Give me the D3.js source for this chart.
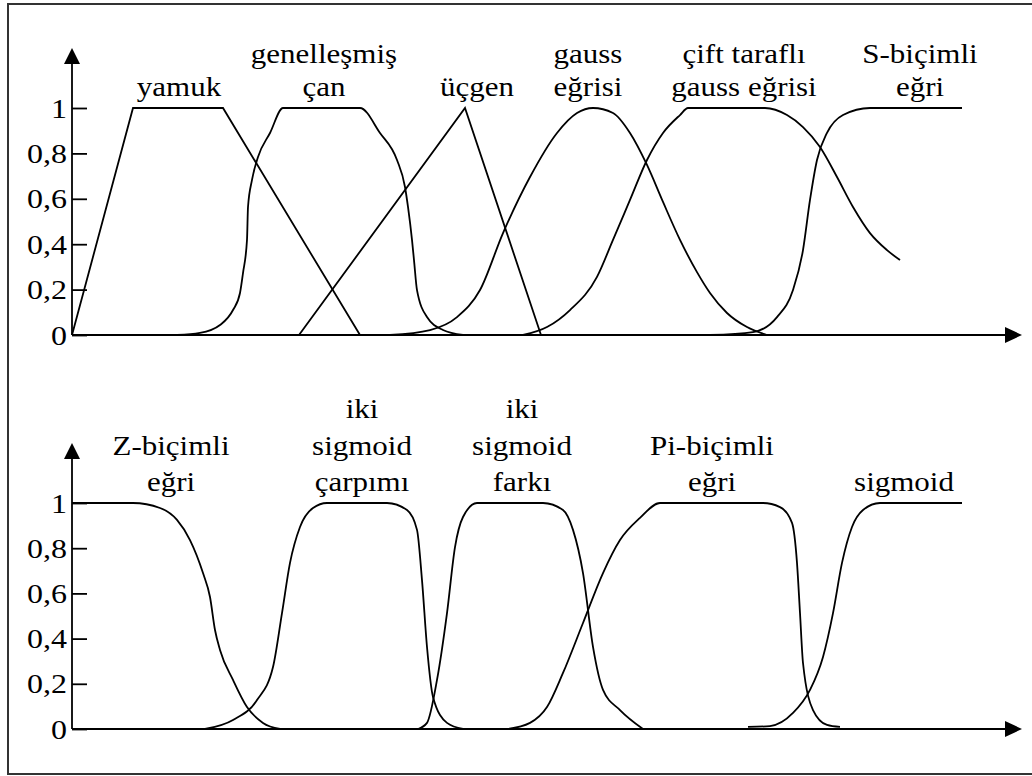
<!DOCTYPE html>
<html lang="tr">
  <head>
    <meta charset="UTF-8" />
    <title>Üyelik fonksiyonları</title>
    <script src="https://d3js.org/d3.v7.min.js"></script>
    <style>
      body {
        margin: 0;
        background: #fff;
        font-family: "Liberation Serif", "Times New Roman", serif;
      }
      svg {
        display: block;
      }
    </style>
  </head>
  <body>
    <svg id="chart" width="1032" height="776"></svg>

    <script>
      // values: [x, membership]
      // x is in drawing units along the horizontal axis (0..950)
      const yamuk = [[0, 0], [61, 1], [151, 1], [288, 0]];
      const genellesmisCan = [
        [105, 0], [128, 0.009], [148, 0.044], [161, 0.11], [168, 0.185],
        [171, 0.273], [175, 0.419], [176, 0.564], [180, 0.683], [186, 0.784],
        [198, 0.89], [211, 1], [288, 1], [308, 0.89], [325, 0.771],
        [333, 0.652], [336, 0.564], [340, 0.419], [342, 0.33], [345, 0.198],
        [355, 0.079], [371, 0.022], [391, 0]
      ];
      const ucgen = [[227, 0], [393, 1], [469, 0]];
      const gaussEgrisi = [
        [318, 0], [358, 0.022], [385, 0.079], [408, 0.198], [431, 0.449],
        [458, 0.696], [485, 0.89], [505, 0.978], [521, 1], [541, 0.978],
        [558, 0.89], [575, 0.749], [591, 0.586], [608, 0.419], [625, 0.277],
        [638, 0.185], [655, 0.097], [675, 0.035], [695, 0]
      ];
      const ciftGauss = [
        [451, 0], [475, 0.035], [498, 0.11], [525, 0.256], [541, 0.419],
        [558, 0.595], [575, 0.771], [591, 0.89], [608, 0.969], [616, 1],
        [693, 1], [715, 0.969], [731, 0.916], [748, 0.828], [765, 0.696],
        [781, 0.564], [798, 0.449], [815, 0.374], [828, 0.33]
      ];
      const sBicimli = [
        [638, 0], [681, 0.013], [705, 0.079], [721, 0.198], [731, 0.374],
        [738, 0.595], [745, 0.771], [755, 0.89], [771, 0.969], [798, 1],
        [890, 1]
      ];

      const zBicimli = [
        [0, 1], [61, 1], [88, 0.978], [105, 0.925], [118, 0.836],
        [131, 0.69], [138, 0.584], [143, 0.438], [148, 0.35], [161, 0.217],
        [175, 0.097], [191, 0.027], [208, 0]
      ];
      const sigmoidCarpimi = [
        [133, 0], [161, 0.04], [185, 0.128], [201, 0.274], [210, 0.513],
        [218, 0.735], [228, 0.894], [241, 0.978], [255, 1], [315, 1],
        [335, 0.969], [345, 0.881], [350, 0.659], [355, 0.363], [361, 0.142],
        [375, 0.027], [391, 0]
      ];
      const sigmoidFarki = [
        [346, 0], [355, 0.027], [365, 0.217], [375, 0.513], [383, 0.805],
        [391, 0.938], [405, 1], [471, 1], [491, 0.969], [501, 0.881],
        [511, 0.69], [521, 0.363], [531, 0.173], [548, 0.084], [571, 0]
      ];
      const piBicimli = [
        [435, 0], [458, 0.027], [475, 0.097], [491, 0.248], [511, 0.469],
        [531, 0.69], [548, 0.836], [568, 0.934], [588, 1], [691, 1],
        [708, 0.982], [720, 0.912], [725, 0.735], [728, 0.513], [731, 0.292],
        [741, 0.084], [755, 0.018], [768, 0.009]
      ];
      const sigmoid = [
        [676, 0.009], [698, 0.013], [721, 0.071], [738, 0.173], [751, 0.319],
        [761, 0.513], [770, 0.735], [780, 0.894], [791, 0.969], [808, 1],
        [890, 1]
      ];

      // curve names (lines of text) and the x where each name is centred
      const topNames = [
        ["yamuk"], ["genelleşmiş", "çan"], ["üçgen"], ["gauss", "eğrisi"],
        ["çift taraflı", "gauss eğrisi"], ["S-biçimli", "eğri"]
      ];
      const topNameX = [107, 252, 405, 516, 672, 848];
      const bottomNames = [
        ["Z-biçimli", "eğri"], ["iki", "sigmoid", "çarpımı"],
        ["iki", "sigmoid", "farkı"], ["Pi-biçimli", "eğri"], ["sigmoid"]
      ];
      const bottomNameX = [99, 290, 450, 640, 832];

      const tickValues = [0, 0.2, 0.4, 0.6, 0.8, 1];

      // the source lettering is a little flattened
      const squash = 0.88;

      const svg = d3.select("#chart");

      // frame round the whole figure
      svg
        .append("rect")
        .attr("x", 8)
        .attr("y", 4)
        .attr("width", 1040)
        .attr("height", 770)
        .attr("fill", "none")
        .attr("stroke", "#333")
        .attr("stroke-width", 2);

      const x = d3.scaleLinear().domain([0, 950]).range([72, 1022]);

      const panels = [
        {
          y: d3.scaleLinear().domain([0, 1]).range([335, 108]),
          linear: [yamuk, ucgen],
          smooth: [genellesmisCan, gaussEgrisi, ciftGauss, sBicimli],
          names: topNames,
          nameX: topNameX,
          lineHeight: 33,
        },
        {
          y: d3.scaleLinear().domain([0, 1]).range([729, 503]),
          linear: [],
          smooth: [zBicimli, sigmoidCarpimi, sigmoidFarki, piBicimli, sigmoid],
          names: bottomNames,
          nameX: bottomNameX,
          lineHeight: 36.5,
        },
      ];

      const fmt = (d) => String(d).replace(".", ",");

      panels.forEach((p) => {
        const g = svg.append("g");
        const y = p.y;
        const x0 = x(0);
        const y0 = y(0);
        const yTip = y(1) - 60;
        const xTip = x(950);

        // y axis ticks (marks point inwards, labels on the left)
        g.append("g")
          .attr("transform", `translate(${x0},0)`)
          .call(
            d3
              .axisLeft(y)
              .tickValues(tickValues)
              .tickFormat(fmt)
              .tickSize(-15)
              .tickPadding(5)
          )
          .call((a) => a.select(".domain").remove())
          .call((a) =>
            a
              .selectAll("line")
              .attr("stroke", "#000")
              .attr("stroke-width", 1.8)
          )
          .call((a) =>
            a
              .selectAll("text")
              .attr("fill", "#000")
              .attr("transform", `scale(1,${squash})`)
              .style("font-family", '"Liberation Serif", serif')
              .style("font-size", "32px")
          );

        // axis lines with arrow heads
        g.append("line")
          .attr("x1", x0)
          .attr("x2", x0)
          .attr("y1", y0)
          .attr("y2", yTip + 14)
          .attr("stroke", "#000")
          .attr("stroke-width", 1.8);
        g.append("path")
          .attr("d", `M${x0},${yTip}L${x0 - 8},${yTip + 16}L${x0 + 8},${yTip + 16}Z`)
          .attr("fill", "#000");

        g.append("line")
          .attr("x1", x0)
          .attr("x2", xTip - 15)
          .attr("y1", y0)
          .attr("y2", y0)
          .attr("stroke", "#000")
          .attr("stroke-width", 1.8);
        g.append("path")
          .attr("d", `M${xTip},${y0}L${xTip - 17},${y0 - 8}L${xTip - 17},${y0 + 8}Z`)
          .attr("fill", "#000");

        const straight = d3
          .line()
          .x((d) => x(d[0]))
          .y((d) => y(d[1]));
        const smooth = d3
          .line()
          .x((d) => x(d[0]))
          .y((d) => y(d[1]))
          .curve(d3.curveMonotoneX);

        g.selectAll(".lin")
          .data(p.linear)
          .enter()
          .append("path")
          .attr("d", straight)
          .attr("fill", "none")
          .attr("stroke", "#000")
          .attr("stroke-width", 1.8);

        g.selectAll(".smo")
          .data(p.smooth)
          .enter()
          .append("path")
          .attr("d", smooth)
          .attr("fill", "none")
          .attr("stroke", "#000")
          .attr("stroke-width", 1.8);

        // names above the curves, last line sits just above the 1 level
        p.names.forEach((lines, i) => {
          const t = g
            .append("text")
            .attr("text-anchor", "middle")
            .attr("fill", "#000")
            .attr(
              "transform",
              `translate(${x(p.nameX[i])},${y(1) - 12}) scale(1,${squash})`
            )
            .style("font-family", '"Liberation Serif", serif')
            .style("font-size", "31px");
          const n = lines.length;
          lines.forEach((line, j) => {
            t.append("tspan")
              .attr("x", 0)
              .attr("y", (-(n - 1 - j) * p.lineHeight) / squash)
              .text(line);
          });
        });
      });
    </script>
  </body>
</html>
